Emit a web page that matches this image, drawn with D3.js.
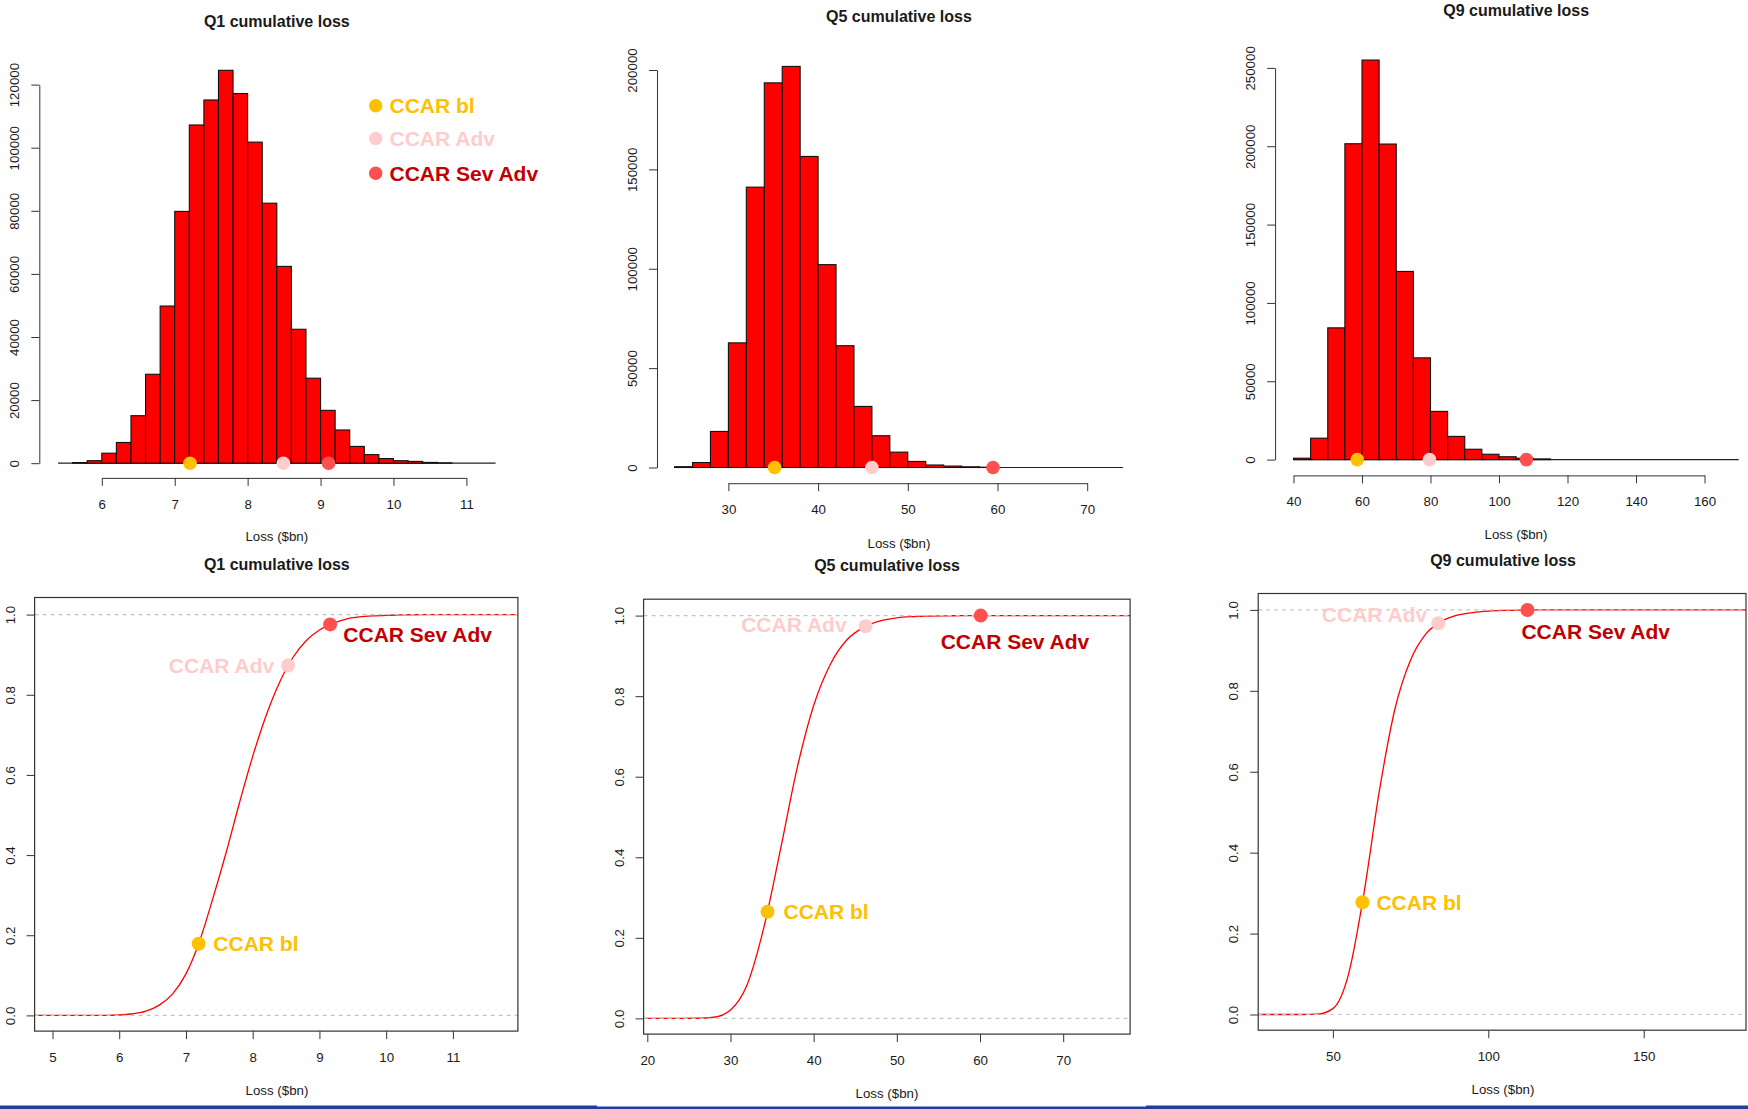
<!DOCTYPE html>
<html>
<head>
<meta charset="utf-8">
<script src="https://cdn.jsdelivr.net/npm/d3@7"></script>
<style>
  html, body { margin: 0; padding: 0; background: #ffffff; }
  svg { display: block; font-family: "Liberation Sans", Arial, Helvetica, sans-serif; }
</style>
</head>
<body>
<svg id="chart" width="1748" height="1109"></svg>
<script>
// ---- Simulated cumulative loss ($bn): histogram counts per bin ----
const q1BinStart = 5.4, q1BinWidth = 0.2;
const q1Counts = [0, 200, 800, 3170, 6570, 15060, 28190, 49810, 79810, 107200,
                  115130, 124530, 117170, 101770, 82410, 62380, 42450, 26940, 16750, 10530,
                  5320, 2720, 1470, 790, 570, 250, 100, 0, 0, 0];

const q5BinStart = 24, q5BinWidth = 2;
const q5Counts = [400, 2500, 18150, 62710, 141060, 193530, 201800, 156510, 102070, 61280,
                  30730, 15990, 7730, 3050, 1260, 720, 360, 150, 0, 0,
                  0, 0, 0, 0, 0];

const q9BinStart = 40, q9BinWidth = 5;
const q9Counts = [900, 13670, 84090, 201600, 255010, 201400, 120100, 64950, 30770, 14810,
                  6610, 3420, 1820, 900, 450, 0, 0, 0, 0, 0,
                  0, 0, 0, 0, 0, 0];

// ---- CCAR scenario losses ($bn) ----
const scenarioNames = ["CCAR bl", "CCAR Adv", "CCAR Sev Adv"];
const q1HistScenario = [7.21, 8.49, 9.11];
const q5HistScenario = [35.15, 46.0, 59.5];
const q9HistScenario = [58.6, 79.7, 108.0];
const q1CdfScenario = [7.19, 8.53, 9.16];
const q5CdfScenario = [34.45, 46.24, 60.08];
const q9CdfScenario = [59.5, 83.9, 112.6];

// ---- Tick values ----
const q1HistXTicks = [6, 7, 8, 9, 10, 11];
const q1HistYTicks = [0, 20000, 40000, 60000, 80000, 100000, 120000];
const q5HistXTicks = [30, 40, 50, 60, 70];
const q5HistYTicks = [0, 50000, 100000, 150000, 200000];
const q9HistXTicks = [40, 60, 80, 100, 120, 140, 160];
const q9HistYTicks = [0, 50000, 100000, 150000, 200000, 250000];
const q1CdfXTicks = [5, 6, 7, 8, 9, 10, 11];
const q5CdfXTicks = [20, 30, 40, 50, 60, 70];
const q9CdfXTicks = [50, 100, 150];
const cdfYTicks = [0, 0.2, 0.4, 0.6, 0.8, 1.0];

// ---- Styles ----
const scenarioFill = ["#FFC000", "#FFCCCC", "#FF5050"];
const scenarioText = ["#FFC000", "#FFCCCC", "#C00000"];
const axisColor = "#333333";
const textColor = "#1a1a1a";
const FONT_AXIS = 13.3, FONT_TITLE = 16, FONT_ANN = 21;

const svg = d3.select("#chart");

// ---- Panel layout (pixels) ----
const histLayout = [
  { title: "Q1 cumulative loss", xDom: [6, 11], xPx: [101.8, 466.4], yDom: [0, 120000], yPx: [463.2, 84.6],
    axisX: 39.3, axisY: 477.9, titleX: 276.8, titleY: 21.4, xlabX: 276.8, xlabY: 536.4 },
  { title: "Q5 cumulative loss", xDom: [30, 70], xPx: [728.4, 1087.2], yDom: [0, 200000], yPx: [467.5, 70],
    axisX: 657, axisY: 483.2, titleX: 898.9, titleY: 16.1, xlabX: 898.9, xlabY: 542.9 },
  { title: "Q9 cumulative loss", xDom: [40, 160], xPx: [1293.5, 1704.5], yDom: [0, 250000], yPx: [459.6, 67.9],
    axisX: 1275.1, axisY: 475.4, titleX: 1516.2, titleY: 10, xlabX: 1516, xlabY: 533.9 }
];

const cdfLayout = [
  { title: "Q1 cumulative loss", xRef: [5, 11], xPx: [52.5, 452.9], box: [34.6, 597.5, 517.9, 1031.1], yPx: [1015.4, 614.6],
    titleX: 276.8, titleY: 564.3, xlabX: 277, xlabY: 1090,
    labelOffsets: [[14.7, 0, "start"], [-13.9, -0.4, "end"], [13.2, 10, "start"]] },
  { title: "Q5 cumulative loss", xRef: [20, 70], xPx: [647.3, 1063.2], box: [643.6, 599.2, 1130.1, 1034.1], yPx: [1018.4, 615.6],
    titleX: 887.1, titleY: 565.3, xlabX: 887, xlabY: 1093.7,
    labelOffsets: [[16, 0, "start"], [-19, -2, "end"], [-40, 26, "start"]] },
  { title: "Q9 cumulative loss", xRef: [50, 150], xPx: [1332.9, 1643.7], box: [1258.2, 593.5, 1746, 1030.2], yPx: [1014.5, 609.9],
    titleX: 1503.1, titleY: 560, xlabX: 1503, xlabY: 1089.4,
    labelOffsets: [[14, 0.7, "start"], [-11, -9, "end"], [-6, 22, "start"]] }
];

const histData = [
  { start: q1BinStart, width: q1BinWidth, counts: q1Counts, scen: q1HistScenario, xTicks: q1HistXTicks, yTicks: q1HistYTicks },
  { start: q5BinStart, width: q5BinWidth, counts: q5Counts, scen: q5HistScenario, xTicks: q5HistXTicks, yTicks: q5HistYTicks },
  { start: q9BinStart, width: q9BinWidth, counts: q9Counts, scen: q9HistScenario, xTicks: q9HistXTicks, yTicks: q9HistYTicks }
];
const cdfData = [
  { start: q1BinStart, width: q1BinWidth, counts: q1Counts, scen: q1CdfScenario, xTicks: q1CdfXTicks },
  { start: q5BinStart, width: q5BinWidth, counts: q5Counts, scen: q5CdfScenario, xTicks: q5CdfXTicks },
  { start: q9BinStart, width: q9BinWidth, counts: q9Counts, scen: q9CdfScenario, xTicks: q9CdfXTicks }
];

const LABEL_OFF_X = 26.2;   // distance from axis line to x tick-label centre
const LABEL_OFF_Y = 24.5;   // distance from axis line to y tick-label centre

function styleAxis(g) {
  g.selectAll("path.domain").attr("stroke", axisColor).attr("stroke-width", 1);
  g.selectAll(".tick line").attr("stroke", axisColor).attr("stroke-width", 1);
  g.selectAll(".tick text").attr("fill", textColor).attr("font-size", FONT_AXIS)
    .attr("font-family", "Liberation Sans, Arial, sans-serif");
}

function bottomAxis(g, x, ticks, fmt, y0, keepDomain) {
  const a = g.append("g").attr("transform", `translate(0,${y0})`)
    .call(d3.axisBottom(x).tickValues(ticks).tickSize(8).tickSizeOuter(0).tickFormat(fmt));
  if (!keepDomain) a.select("path.domain").remove();
  a.selectAll(".tick text").attr("y", LABEL_OFF_X).attr("dy", "0.35em");
  styleAxis(a);
}

function leftAxis(g, y, ticks, fmt, x0, keepDomain) {
  const a = g.append("g").attr("transform", `translate(${x0},0)`)
    .call(d3.axisLeft(y).tickValues(ticks).tickSize(8).tickSizeOuter(0).tickFormat(fmt));
  if (!keepDomain) a.select("path.domain").remove();
  a.selectAll(".tick text")
    .attr("x", 0).attr("y", 0).attr("dy", "0.35em")
    .attr("text-anchor", "middle")
    .attr("transform", `translate(${-LABEL_OFF_Y},0) rotate(-90)`);
  styleAxis(a);
}

function addText(g, x, y, txt, opts) {
  return g.append("text").attr("x", x).attr("y", y).attr("dy", "0.35em")
    .attr("text-anchor", opts.anchor || "middle")
    .attr("font-size", opts.size || FONT_AXIS)
    .attr("font-weight", opts.bold ? "bold" : "normal")
    .attr("fill", opts.color || textColor)
    .text(txt);
}

// ---- Histograms ----
histLayout.forEach((L, i) => {
  const D = histData[i];
  const g = svg.append("g");
  const x = d3.scaleLinear().domain(L.xDom).range(L.xPx);
  const y = d3.scaleLinear().domain(L.yDom).range(L.yPx);
  const bins = D.counts.map((c, k) => ({ x0: D.start + k * D.width, x1: D.start + (k + 1) * D.width, c }));

  // base line under the bins
  g.append("line")
    .attr("x1", x(bins[0].x0)).attr("x2", x(bins[bins.length - 1].x1))
    .attr("y1", y(0)).attr("y2", y(0))
    .attr("stroke", "#222").attr("stroke-width", 1.2);

  g.selectAll("rect.bar").data(bins.filter(b => b.c > 0)).join("rect")
    .attr("class", "bar")
    .attr("x", b => x(b.x0)).attr("width", b => x(b.x1) - x(b.x0))
    .attr("y", b => y(b.c)).attr("height", b => y(0) - y(b.c))
    .attr("fill", "#FF0000").attr("stroke", "#111").attr("stroke-width", 1.1);

  // scenario markers on the zero line
  g.selectAll("circle.scen").data(D.scen).join("circle")
    .attr("class", "scen")
    .attr("cx", v => x(v)).attr("cy", y(0)).attr("r", 6.8)
    .attr("fill", (v, k) => scenarioFill[k]);

  bottomAxis(g, x, D.xTicks, d3.format("d"), L.axisY, true);
  leftAxis(g, y, D.yTicks, d3.format("d"), L.axisX, true);

  addText(g, L.titleX, L.titleY, L.title, { size: FONT_TITLE, bold: true });
  addText(g, L.xlabX, L.xlabY, "Loss ($bn)", {});
});

// legend in the first histogram
const legend = svg.append("g");
const legendY = [105.8, 138.4, 173.2];
scenarioNames.forEach((name, k) => {
  legend.append("circle").attr("cx", 375.7).attr("cy", legendY[k]).attr("r", 6.7).attr("fill", scenarioFill[k]);
  addText(legend, 389.5, legendY[k], name, { size: 21, bold: true, anchor: "start", color: scenarioText[k] });
});

// ---- Cumulative distribution curves ----
function pointAtX(node, px) {
  const total = node.getTotalLength();
  let lo = 0, hi = total;
  for (let it = 0; it < 50; it++) {
    const mid = (lo + hi) / 2;
    if (node.getPointAtLength(mid).x < px) lo = mid; else hi = mid;
  }
  return node.getPointAtLength((lo + hi) / 2);
}

cdfLayout.forEach((L, i) => {
  const D = cdfData[i];
  const g = svg.append("g");
  const x = d3.scaleLinear().domain(L.xRef).range(L.xPx);
  const y = d3.scaleLinear().domain([0, 1]).range(L.yPx);
  const [bx0, by0, bx1, by1] = L.box;

  const total = d3.sum(D.counts);
  const cum = d3.cumsum(D.counts);
  const pts = [[x.invert(bx0), 0], [D.start, 0]];
  cum.forEach((c, k) => pts.push([D.start + (k + 1) * D.width, c / total]));
  pts.push([x.invert(bx1), 1]);

  const line = d3.line().x(d => x(d[0])).y(d => y(d[1])).curve(d3.curveMonotoneX);
  const curve = g.append("path").datum(pts).attr("d", line)
    .attr("fill", "none").attr("stroke", "#FF0000").attr("stroke-width", 1.3);

  // reference lines at 0 and 1
  [0, 1].forEach(v => g.append("line")
    .attr("x1", bx0).attr("x2", bx1).attr("y1", y(v)).attr("y2", y(v))
    .attr("stroke", "#C4C4C4").attr("stroke-width", 1.1).attr("stroke-dasharray", "4,4"));

  // frame
  g.append("rect").attr("x", bx0).attr("y", by0).attr("width", bx1 - bx0).attr("height", by1 - by0)
    .attr("fill", "none").attr("stroke", axisColor).attr("stroke-width", 1.2);

  bottomAxis(g, x, D.xTicks, d3.format("d"), by1, false);
  leftAxis(g, y, cdfYTicks, d3.format(".1f"), bx0, false);

  // scenario markers placed on the curve
  const node = curve.node();
  D.scen.forEach((v, k) => {
    const p = pointAtX(node, x(v));
    g.append("circle").attr("cx", p.x).attr("cy", p.y).attr("r", 7).attr("fill", scenarioFill[k]);
    const [dx, dy, anchor] = L.labelOffsets[k];
    addText(g, p.x + dx, p.y + dy, scenarioNames[k], { size: FONT_ANN, bold: true, anchor, color: scenarioText[k] });
  });

  addText(g, L.titleX, L.titleY, L.title, { size: FONT_TITLE, bold: true });
  addText(g, L.xlabX, L.xlabY, "Loss ($bn)", {});
});

// ---- bottom rule ----
const rule = [[0, 597, 1105.5], [597, 1146, 1106.5], [1146, 1748, 1105.5]];
svg.selectAll("rect.rule").data(rule).join("rect").attr("class", "rule")
  .attr("x", d => d[0]).attr("width", d => d[1] - d[0]).attr("y", d => d[2]).attr("height", 3.5)
  .attr("fill", "#1F3E9E");
</script>
</body>
</html>
